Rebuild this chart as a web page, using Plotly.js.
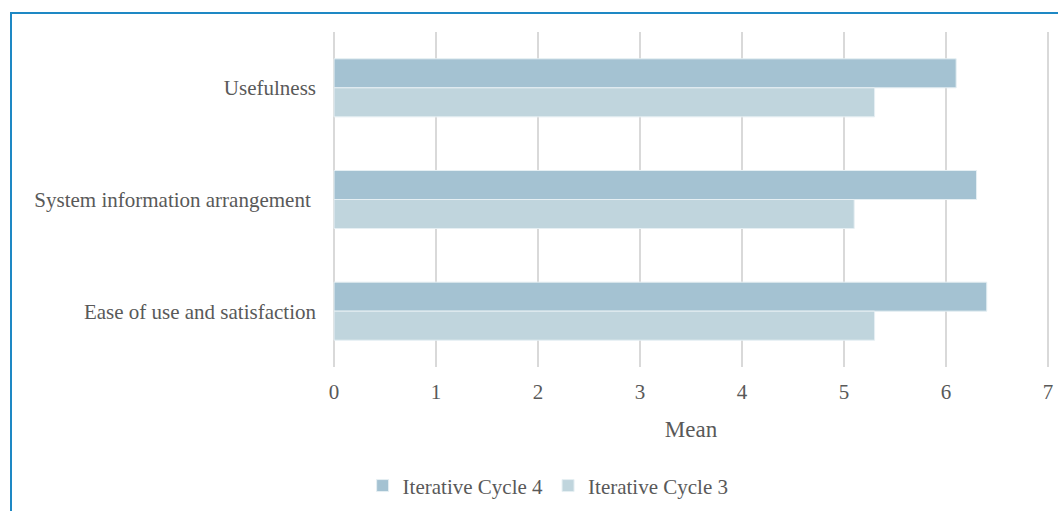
<!DOCTYPE html>
<html>
<head>
<meta charset="utf-8">
<script src="https://cdn.plot.ly/plotly-3.0.1.min.js"></script>
<style>
  html, body { margin: 0; padding: 0; background: #ffffff; overflow: hidden; }
  #wrap { position: relative; width: 1058px; height: 511px; }
  #frame { position: absolute; left: 10px; top: 12px; width: 1060px; height: 520px;
           border-left: 2px solid #1e88c4; border-top: 2px solid #1e88c4; pointer-events: none; }
  #chart { position: absolute; left: 0; top: 0; width: 1058px; height: 511px; }
</style>
</head>
<body>
<div id="wrap">
  <div id="chart"></div>
  <div id="frame"></div>
</div>
<script>
// Evaluation dimensions (top to bottom)
const categories = ["Usefulness", "System information arrangement ", "Ease of use and satisfaction"];
// Mean scores per iterative cycle
const cycle4 = [6.1, 6.3, 6.4];
const cycle3 = [5.3, 5.1, 5.3];
const seriesNames = ["Iterative Cycle 4", "Iterative Cycle 3"];
const xTicks = [0, 1, 2, 3, 4, 5, 6, 7];

const textColor = "#595959";
const serif = "'Liberation Serif', 'Times New Roman', serif";

const traces = [
  {
    type: "bar", orientation: "h", name: seriesNames[0],
    y: categories, x: cycle4,
    marker: { color: "#a4c2d2", line: { color: "#e6eff3", width: 1 } },
    hoverinfo: "x+name"
  },
  {
    type: "bar", orientation: "h", name: seriesNames[1],
    y: categories, x: cycle3,
    marker: { color: "#c0d5dd", line: { color: "#e6eff3", width: 1 } },
    hoverinfo: "x+name"
  }
];

const layout = {
  width: 1058, height: 511,
  margin: { l: 332, r: 8, t: 32, b: 144, autoexpand: false },
  paper_bgcolor: "#ffffff", plot_bgcolor: "#ffffff",
  barmode: "group",
  bargap: 0.48, bargroupgap: 0,
  font: { family: serif, color: textColor, size: 21 },
  showlegend: true,
  legend: {
    orientation: "h", x: 0.301, xanchor: "center", y: -0.355, yanchor: "middle",
    font: { family: serif, size: 21, color: textColor },
    itemwidth: 30, traceorder: "normal"
  },
  xaxis: {
    // small padding so the gridlines at 0 and 7 are kept inside the plot
    range: [-0.02, 7.02], tickvals: xTicks, ticktext: xTicks.map(String),
    showgrid: true, gridcolor: "#d9d9d9", gridwidth: 2,
    zeroline: false, showline: false, ticks: "",
    ticklabelstandoff: 10,
    tickfont: { family: serif, size: 21, color: textColor },
    title: { text: "Mean", font: { family: serif, size: 23, color: textColor }, standoff: 17 },
    fixedrange: true
  },
  yaxis: {
    type: "category", autorange: "reversed",
    showgrid: false, zeroline: false, showline: false, ticks: "",
    ticklabelstandoff: 15,
    tickfont: { family: serif, size: 21, color: textColor },
    fixedrange: true
  }
};

Plotly.newPlot("chart", traces, layout, { displayModeBar: false, staticPlot: true });
</script>
</body>
</html>
